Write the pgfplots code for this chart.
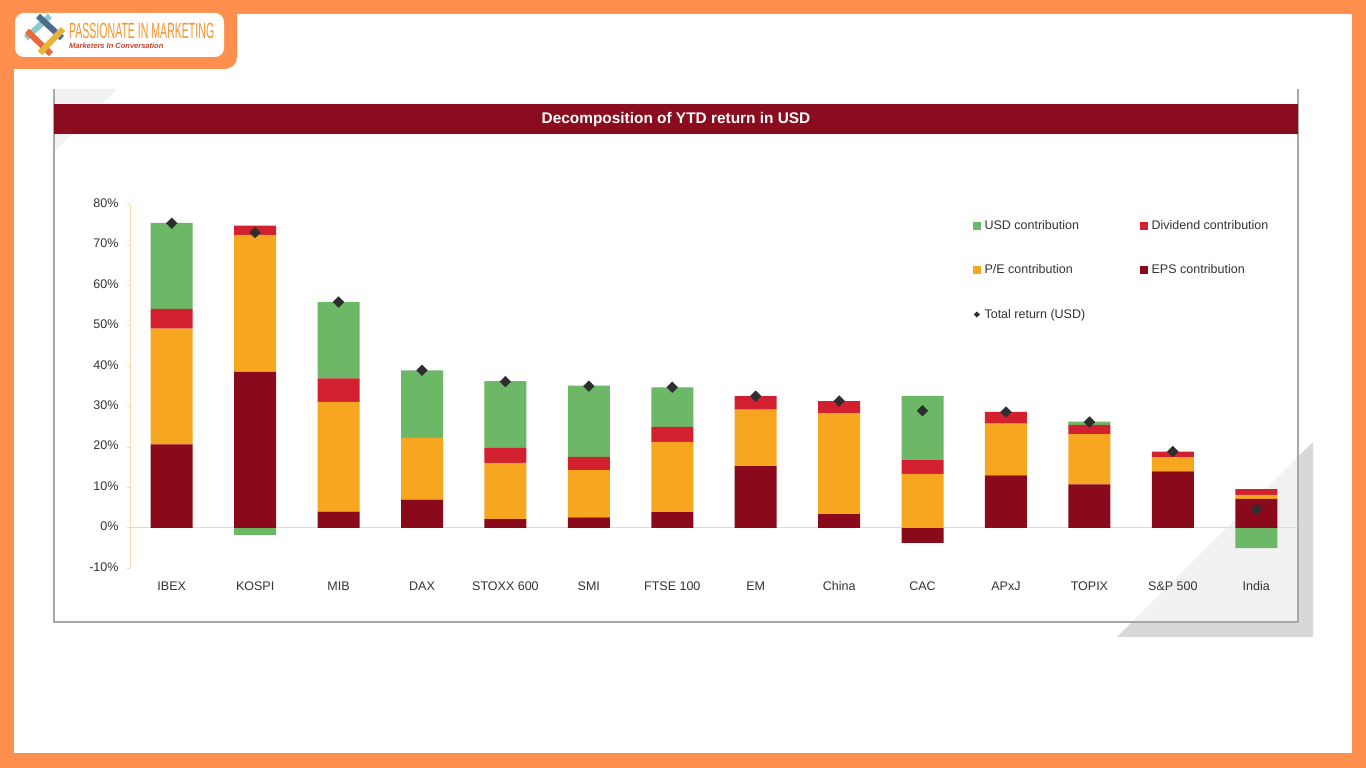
\documentclass[border=0pt]{standalone}
\usepackage{pgfplots}
\pgfplotsset{compat=1.18}
\usepackage{pgfplotstable}
\usepackage{fontspec}
\setmainfont{Liberation Sans}
\definecolor{bgorange}{HTML}{FF8F4C}
\definecolor{titlered}{HTML}{8A0C1E}
\definecolor{cUSD}{HTML}{6DB866}
\definecolor{cDiv}{HTML}{D2202F}
\definecolor{cPE}{HTML}{F7A620}
\definecolor{cEPS}{HTML}{8A0A1B}
\definecolor{markgray}{HTML}{2E2E2E}
\definecolor{txtgray}{HTML}{333333}
\definecolor{framegray}{HTML}{A8A8A8}
\definecolor{tanline}{HTML}{F5DAB2}
\definecolor{zeroline}{HTML}{DCDCDC}
\definecolor{shadedark}{HTML}{D8D8D8}
\definecolor{shadelight}{HTML}{F1F1F1}
\definecolor{logoorange}{HTML}{F3962E}
\definecolor{logored}{HTML}{C8442A}
\definecolor{logoteal}{HTML}{8CC9CB}
\definecolor{logoblue}{HTML}{4D6E8A}
\definecolor{logocoral}{HTML}{E9683F}
\definecolor{logoyellow}{HTML}{E8B43A}

\pgfplotstableread{
x eps pe div usd epsneg usdneg total
0 20.7 28.6 4.9 21.3 0 0 75.4
1 38.6 33.9 2.3 0 0 -1.7 73.1
2 4.0 27.2 5.8 18.9 0 0 55.9
3 7.0 15.3 0 16.7 0 0 39.0
4 2.2 13.9 3.7 16.5 0 0 36.2
5 2.6 11.7 3.3 17.6 0 0 35.1
6 3.9 17.4 3.7 9.8 0 0 34.8
7 15.3 14.0 3.3 0 0 0 32.6
8 3.4 25.0 3.0 0 0 0 31.4
9 0 13.4 3.5 15.8 -3.7 0 29.0
10 13.0 12.8 2.9 0 0 0 28.7
11 10.8 12.4 2.3 0.8 0 0 26.2
12 14.0 3.5 1.4 0 0 0 18.9
13 7.2 1.0 1.4 0 0 -5.0 4.6
}\data

\pgfplotsset{
  geom/.style={
    at={(130pt,199.7pt)}, anchor=south west, scale only axis,
    width=1168pt, height=363.6pt,
    xmin=-0.5, xmax=13.5, ymin=-10, ymax=80,
  },
}

\begin{document}
\begin{tikzpicture}
\useasboundingbox (0pt,0pt) rectangle (1366pt,768pt);
\begin{scope}[shift={(0pt,768pt)},x=1pt,y=-1pt]
  \fill[bgorange] (0,0) rectangle (1366,768);
  \fill[white] (14,14) rectangle (1352,753);
  % logo tab
  \fill[bgorange, rounded corners=12pt] (0,0) rectangle (237,69);
  \fill[bgorange] (0,0) rectangle (30,30);
  \fill[white, rounded corners=9pt] (15,13) rectangle (224,57);
  \draw[logoteal, line width=6pt] (26,38) -- (50,16);
  \draw[logoblue, line width=6pt] (38,16) -- (62,38);
  \draw[logocoral, line width=6pt] (27,31) -- (51,54);
  \draw[logoyellow, line width=6pt] (40,53) -- (63,29);
  \node[anchor=west, text=logoorange, font=\fontsize{22}{24}\selectfont, xscale=0.48, inner sep=0pt] at (69,31) {PASSIONATE IN MARKETING};
  \node[anchor=west, text=logored, font=\bfseries\itshape\fontsize{7.5}{9}\selectfont, inner sep=0pt] at (69,46) {Marketers In Conversation};
  % chart frame with shadow
  \fill[shadedark] (1117,637) -- (1313,637) -- (1313,442) -- cycle;
  \fill[white] (54,89) rectangle (1298,622);
  \begin{scope}
    \clip (54,89) rectangle (1298,622);
    \fill[shadelight] (1117,637) -- (1313,637) -- (1313,442) -- cycle;
  \end{scope}
  \fill[shadelight] (54,89) -- (117,89) -- (54,152) -- cycle;
  \draw[framegray, line width=1.5pt] (54,89) -- (54,622) -- (1298,622) -- (1298,89);
  \fill[titlered] (54,104) rectangle (1298,134);
  \node[text=white, font=\bfseries\fontsize{15.4}{17}\selectfont] at (676,120) {Decomposition of YTD return in USD};
\end{scope}

% axis 1: frame, ticks, zero line, negative parts
\begin{axis}[geom,
  axis lines*=left,
  x axis line style={draw=none},
  y axis line style={draw=tanline, line width=0.8pt},
  xtick={0,...,13},
  xticklabels={IBEX,KOSPI,MIB,DAX,STOXX 600,SMI,FTSE 100,EM,China,CAC,APxJ,TOPIX,S\&P 500,India},
  x tick style={draw=none},
  ytick={-10,0,10,20,30,40,50,60,70,80},
  yticklabels={-10\%,0\%,10\%,20\%,30\%,40\%,50\%,60\%,70\%,80\%},
  y tick style={draw=tanline, line width=0.8pt},
  tick align=outside, major tick length=3pt,
  typeset ticklabels with strut,
  ticklabel style={font=\fontsize{12.5}{14}\selectfont, text=txtgray},
  yticklabel style={xshift=-5pt},
  xticklabel style={yshift=-6pt},
  extra y ticks={0}, extra y tick labels={},
  extra y tick style={grid=major, major grid style={draw=zeroline, line width=1.2pt}, tick style={draw=none}},
]
\addplot[ybar, bar width=42pt, bar shift=0pt, fill=cEPS, draw=none] table[x=x,y=epsneg]{\data};
\addplot[ybar, bar width=42pt, bar shift=0pt, fill=cUSD, draw=none] table[x=x,y=usdneg]{\data};
\end{axis}

% axis 2: stacked positive contributions
\begin{axis}[geom, hide axis, ybar stacked, bar width=42pt]
\addplot[fill=cEPS, draw=none] table[x=x,y=eps]{\data};
\addplot[fill=cPE, draw=none] table[x=x,y=pe]{\data};
\addplot[fill=cDiv, draw=none] table[x=x,y=div]{\data};
\addplot[fill=cUSD, draw=none] table[x=x,y=usd]{\data};
\end{axis}

% axis 3: total return markers and legend
\begin{axis}[geom, hide axis,
  legend columns=2,
  legend cell align=left,
  legend style={draw=none, fill=none, at={(0.7217,0.958)}, anchor=north west,
    row sep=34pt, inner sep=0pt,
    font=\fontsize{12.5}{14}\selectfont, text=txtgray,
    nodes={inner sep=0pt},
    /tikz/every odd column/.append style={column sep=4pt},
    /tikz/every even column/.append style={column sep=55pt}},
]
\addlegendimage{legend image code/.code={\fill[cUSD] (0pt,-3.5pt) rectangle (7pt,3.5pt);}}
\addlegendentry{USD contribution}
\addlegendimage{legend image code/.code={\fill[cDiv] (0pt,-3.5pt) rectangle (7pt,3.5pt);}}
\addlegendentry{Dividend contribution}
\addlegendimage{legend image code/.code={\fill[cPE] (0pt,-3.5pt) rectangle (7pt,3.5pt);}}
\addlegendentry{P/E contribution}
\addlegendimage{legend image code/.code={\fill[cEPS] (0pt,-3.5pt) rectangle (7pt,3.5pt);}}
\addlegendentry{EPS contribution}
\addlegendimage{legend image code/.code={\fill[markgray] (3.5pt,2.7pt) -- (6.2pt,0pt) -- (3.5pt,-2.7pt) -- (0.8pt,0pt) -- cycle;}}
\addlegendentry{Total return (USD)}
\addplot[forget plot, only marks, mark=square*, mark size=3.8pt, mark options={rotate=45, fill=markgray, draw=markgray}] table[x=x,y=total]{\data};
\end{axis}
\end{tikzpicture}
\end{document}
